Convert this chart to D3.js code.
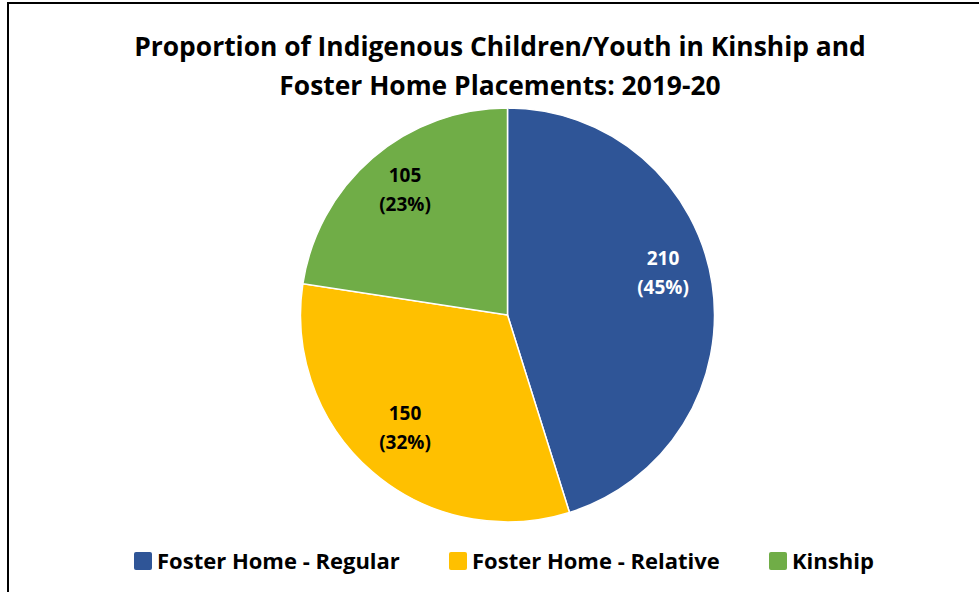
<!DOCTYPE html>
<html>
<head>
<meta charset="utf-8">
<script src="https://cdn.jsdelivr.net/npm/d3@7"></script>
<style>
  body { margin: 0; background: #fff; }
  svg { display: block; font-family: "Open Sans", "Noto Sans", sans-serif; }
</style>
</head>
<body>
<svg id="chart" width="979" height="592"></svg>
<script>
// chart data
const categories = ["Foster Home - Regular", "Foster Home - Relative", "Kinship"];
const counts = [210, 150, 105];
const percents = ["45%", "32%", "23%"];
const colors = ["#2F5597", "#FFC000", "#70AD47"];
const labelColors = ["#ffffff", "#000000", "#000000"];
const titleLines = ["Proportion of Indigenous Children/Youth in Kinship and", "Foster Home Placements: 2019-20"];

const svg = d3.select("#chart");

// outer frame (right and bottom sides fall outside the window)
svg.append("rect")
    .attr("x", 8).attr("y", 3)
    .attr("width", 1000).attr("height", 620)
    .attr("fill", "none")
    .attr("stroke", "#000")
    .attr("stroke-width", 2);

// title
const title = svg.append("text")
    .attr("text-anchor", "middle")
    .style("font-weight", "bold")
    .style("font-size", "24px")
    .attr("fill", "#000");
titleLines.forEach((t, i) => {
    title.append("tspan")
        .attr("x", 500)
        .attr("y", 56 + i * 39)
        .text(t);
});
// squeeze to the reference width (Calibri is narrower than what we have)
const tw = title.select("tspan").node().getComputedTextLength();
title.style("font-size", (24 * 732 / tw) + "px");

// pie
const cx = 507.5, cy = 315, r = 207;
const pie = d3.pie().sort(null).value(d => d)(counts);
const arc = d3.arc().innerRadius(0).outerRadius(r);
const labelArc = d3.arc().innerRadius(r * 0.76).outerRadius(r * 0.76);

const g = svg.append("g").attr("transform", `translate(${cx},${cy})`);

g.selectAll("path")
    .data(pie)
    .join("path")
        .attr("d", arc)
        .attr("fill", (d, i) => colors[i])
        .attr("stroke", "#fff")
        .attr("stroke-width", 1.5);

const labels = g.selectAll("text.lbl")
    .data(pie)
    .join("text")
        .attr("class", "lbl")
        .attr("text-anchor", "middle")
        .attr("transform", d => {
            const [x, y] = labelArc.centroid(d);
            // excel nudges the big slice label upward
            return `translate(${x},${d.index === 0 ? y - 20 : y - 8})`;
        })
        .style("font-weight", "bold")
        .style("font-size", "19px")
        .attr("fill", (d, i) => labelColors[i]);
labels.append("tspan").attr("x", 0).attr("y", -6).text(d => d.data);
labels.append("tspan").attr("x", 0).attr("y", 23).text((d, i) => "(" + percents[i] + ")");

// legend
const legend = svg.append("g").attr("transform", "translate(0,561)");
const legX = [134, 449, 769];
const items = legend.selectAll("g")
    .data(categories)
    .join("g")
        .attr("transform", (d, i) => `translate(${legX[i]},0)`);
items.append("rect")
    .attr("x", 0).attr("y", -9)
    .attr("width", 18).attr("height", 18)
    .attr("rx", 2)
    .attr("fill", (d, i) => colors[i]);
items.append("text")
    .attr("x", 23).attr("y", 8)
    .style("font-weight", "bold")
    .style("font-size", "22px")
    .attr("fill", "#000")
    .text(d => d);
</script>
</body>
</html>
